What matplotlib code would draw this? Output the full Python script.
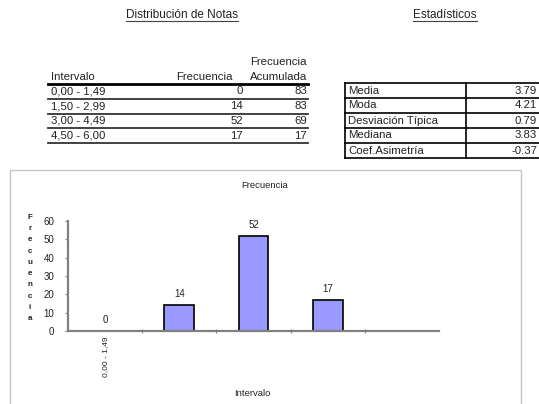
import matplotlib.pyplot as plt
from matplotlib.lines import Line2D
from matplotlib.patches import Rectangle

# Distribution table.
intervalos = ["0,00 - 1,49", "1,50 - 2,99", "3,00 - 4,49", "4,50 - 6,00"]
frecuencia = [0, 14, 52, 17]
acumulada = [83, 83, 69, 17]

# Statistics table.
estadisticos = ["Media", "Moda", "Desviación Típica", "Mediana", "Coef.Asimetría"]
valores = ["3.79", "4.21", "0.79", "3.83", "-0.37"]

# Chart has one empty trailing category.
categorias = intervalos + [""]
y_ticks = [0, 10, 20, 30, 40, 50, 60]

W, H = 539, 404
TXT = "#222222"
FONT = "Liberation Sans"


def fx(px):
  return px / W


def fy(py):
  return 1 - py / H


def text(fig, x, y, s, size=8.2, ha="left", **kw):
  fig.text(fx(x), fy(y), s, ha=ha, va="center", fontsize=size, color=TXT,
           family=FONT, **kw)


def hline(fig, x0, x1, y, lw=1.0, color="black"):
  fig.add_artist(Line2D([fx(x0), fx(x1)], [fy(y), fy(y)], lw=lw, color=color))


def vline(fig, x, y0, y1, lw=1.0, color="black"):
  fig.add_artist(Line2D([fx(x), fx(x)], [fy(y0), fy(y1)], lw=lw, color=color))


def main():
  fig = plt.figure(figsize=(W / 100, H / 100), dpi=100)

  # Section titles, underlined.
  text(fig, 182, 15, "Distribución de Notas", size=8.5, ha="center")
  hline(fig, 126, 238, 21, lw=0.8, color="#444444")
  text(fig, 445, 15, "Estadísticos", size=8.5, ha="center")
  hline(fig, 413, 477, 21, lw=0.8, color="#444444")

  # Left table.
  text(fig, 307, 62, "Frecuencia", ha="right")
  text(fig, 51, 77, "Intervalo")
  text(fig, 233, 77, "Frecuencia", ha="right")
  text(fig, 307, 77, "Acumulada", ha="right")
  hline(fig, 48, 308, 84, lw=2.0)
  row_h = 14.75
  for i, (iv, f, a) in enumerate(zip(intervalos, frecuencia, acumulada)):
    yc = 84 + row_h * (i + 0.5)
    text(fig, 51, yc, iv)
    text(fig, 243, yc, str(f), ha="right")
    text(fig, 307, yc, str(a), ha="right")
    hline(fig, 48, 308, 84 + row_h * (i + 1), lw=1.3, color="#333333")

  # Right table.
  top = 83
  for i, (name, val) in enumerate(zip(estadisticos, valores)):
    yc = top + 15 * (i + 0.5)
    text(fig, 348, yc, name)
    text(fig, 537, yc, val, ha="right")
  for i in range(len(estadisticos) + 1):
    hline(fig, 345, 545, top + 15 * i, lw=1.2)
  vline(fig, 345, top, top + 15 * len(estadisticos), lw=1.2)
  vline(fig, 466, top, top + 15 * len(estadisticos), lw=1.2)

  # Chart frame.
  fig.add_artist(Rectangle((fx(9.5), fy(410)), fx(511), fy(169.5) - fy(410),
                           fill=False, edgecolor="#c4c4c4", lw=1.0))

  ax = fig.add_axes([fx(68), fy(331), fx(371), fy(221) - fy(331)])
  x = list(range(len(categorias)))
  ax.bar(x[:len(frecuencia)], frecuencia, width=0.4, color="#9999ff",
         edgecolor="black", lw=1.2)
  for xi, v in zip(x, frecuencia):
    ax.text(xi, v + 6, str(v), ha="center", va="center", fontsize=7,
            color=TXT, family=FONT)
  ax.set_xlim(-0.5, len(categorias) - 0.5)
  ax.set_ylim(0, 60)
  ax.set_yticks(y_ticks)
  ax.set_yticklabels([str(t) for t in y_ticks], fontsize=7, color=TXT,
                     family=FONT)
  ax.set_xticks([i + 0.5 for i in range(len(categorias) - 1)])
  ax.set_xticklabels([])
  ax.tick_params(axis="y", direction="out", length=2, width=0.8, color="#808080", pad=8)
  ax.tick_params(axis="x", direction="inout", length=3, width=0.8, color="#808080")
  for s in ["top", "right"]:
    ax.spines[s].set_visible(False)
  for s in ["left", "bottom"]:
    ax.spines[s].set_color("#808080")
    ax.spines[s].set_linewidth(1.6)
  ax.patch.set_visible(False)

  # Only the first category label is shown, rotated.
  ax.text(0, -3, categorias[0], rotation=90, ha="center", va="top",
          fontsize=6, color=TXT, family=FONT)

  text(fig, 265, 186, "Frecuencia", size=6.8, ha="center")
  text(fig, 252, 394, "Intervalo", size=6.8, ha="center")
  fig.text(fx(30), fy(268), "\n".join("Frecuencia"), ha="center", va="center",
           fontsize=5.8, color=TXT, family=FONT,
           fontweight="bold", linespacing=1.85)

  plt.savefig("out.png", dpi=100)


if __name__ == "__main__":
  main()
